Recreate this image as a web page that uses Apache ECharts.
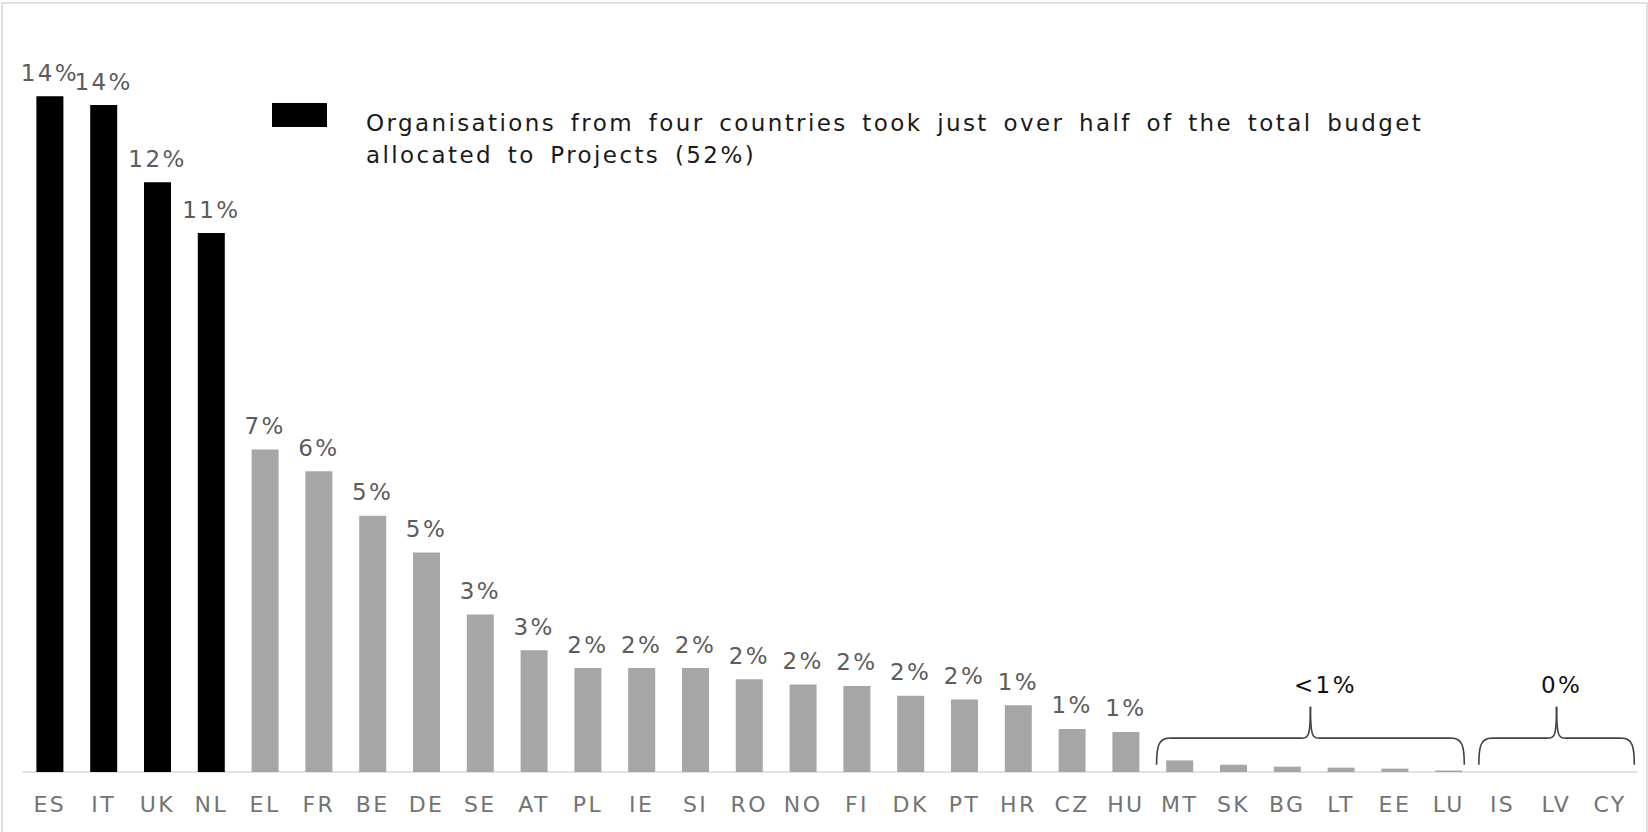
<!DOCTYPE html>
<html><head><meta charset="utf-8">
<script src="https://cdn.jsdelivr.net/npm/echarts@6/dist/echarts.min.js"></script>
<style>html,body{margin:0;padding:0;background:#fff}#c{width:1648px;height:832px}#c svg text{letter-spacing:2.4px;word-spacing:5px}</style>
</head><body><div id="c"></div>
<script>
const categories = ['ES','IT','UK','NL','EL','FR','BE','DE','SE','AT','PL','IE','SI','RO','NO','FI','DK','PT','HR','CZ','HU','MT','SK','BG','LT','EE','LU','IS','LV','CY'];
const values = [13.98,13.8,12.2,11.15,6.67,6.22,5.3,4.54,3.26,2.52,2.15,2.15,2.15,1.92,1.81,1.78,1.58,1.5,1.38,0.89,0.83,0.24,0.15,0.11,0.09,0.07,0.03,0,0,0];
const valueLabels = ['14%','14%','12%','11%','7%','6%','5%','5%','3%','3%','2%','2%','2%','2%','2%','2%','2%','2%','1%','1%','1%','','','','','','','','',''];
const highlightCount = 4;
const legendLines = ['Organisations from four countries took just over half of the total budget','allocated to Projects (52%)'];
const groupLabels = ['<1%','0%'];
const groupFirst = ['MT','IS'];
const groupLast = ['LU','CY'];

const FONT = '"DejaVu Sans", Verdana, sans-serif';
const chart = echarts.init(document.getElementById('c'), null, {renderer:'svg'});
const option = {
  backgroundColor:'#fff',
  animation:false,
  grid:{left:23,right:11,top:47,bottom:60,containLabel:false},
  xAxis:{type:'category',data:categories,
    axisLine:{lineStyle:{color:'#d9d9d9',width:1.5}},
    axisTick:{show:false},
    axisLabel:{color:'#737373',fontSize:22,fontFamily:FONT,margin:21,interval:0}},
  yAxis:{type:'value',min:0,max:15,show:false,splitLine:{show:false}},
  series:[{type:'bar',barWidth:27,
    data:values.map((v,i)=>({value:v,itemStyle:{color:i<highlightCount?'#000000':'#a6a6a6'}})),
    label:{show:true,position:'top',distance:12,color:'#5c5c5c',fontSize:23,fontFamily:FONT,
      formatter:p=>valueLabels[p.dataIndex]}}]
};
chart.setOption(option);

const band = chart.convertToPixel({xAxisIndex:0},categories[1]) - chart.convertToPixel({xAxisIndex:0},categories[0]);
const yMid = chart.convertToPixel({yAxisIndex:0},0.7);
const yTop = chart.convertToPixel({yAxisIndex:0},1.35);
const yBot = chart.convertToPixel({yAxisIndex:0},0.15);
const yLab = chart.convertToPixel({yAxisIndex:0},1.8);
const leftFrac=[0.43,0.44], rightFrac=[0.29,0.45];
const braceStyle = {fill:null,stroke:'#404040',lineWidth:1.6};
function bz(x1,y1,c1x,c1y,c2x,c2y,x2,y2){
  return {type:'bezierCurve',shape:{x1:x1,y1:y1,cpx1:c1x,cpy1:c1y,cpx2:c2x,cpy2:c2y,x2:x2,y2:y2},style:braceStyle,silent:true};
}
function ln(x1,y1,x2,y2){return {type:'line',shape:{x1:x1,y1:y1,x2:x2,y2:y2},style:braceStyle,silent:true};}
const graphics = [
  {type:'rect',shape:{x:2,y:3,width:1645,height:840},style:{fill:null,stroke:'#d6d6d6',lineWidth:1.5},silent:true},
  {type:'rect',shape:{x:272,y:103,width:55,height:24},style:{fill:'#000'}},
  {type:'text',x:366,y:107,style:{text:legendLines.join('\n'),fill:'#1a1a1a',font:'23px '+FONT,lineHeight:32}}
];
groupLabels.forEach((lab,g)=>{
  const a = chart.convertToPixel({xAxisIndex:0},groupFirst[g]) - leftFrac[g]*band;
  const b = chart.convertToPixel({xAxisIndex:0},groupLast[g]) + rightFrac[g]*band;
  const m = (a+b)/2;
  graphics.push(bz(a,yBot,a,yMid+8,a+2,yMid,a+13,yMid));
  graphics.push(ln(a+13,yMid,m-8,yMid));
  graphics.push(bz(m-8,yMid,m-2,yMid,m,yMid-3,m,yTop));
  graphics.push(bz(m,yTop,m,yMid-3,m+2,yMid,m+8,yMid));
  graphics.push(ln(m+8,yMid,b-13,yMid));
  graphics.push(bz(b-13,yMid,b-2,yMid,b,yMid+8,b,yBot));
  graphics.push({type:'text',x:m+(g===0?15:5),y:yLab,style:{text:lab,fill:'#111',font:'23px '+FONT,align:'center',verticalAlign:'middle'}});
});
chart.setOption({graphic:graphics});
</script></body></html>
